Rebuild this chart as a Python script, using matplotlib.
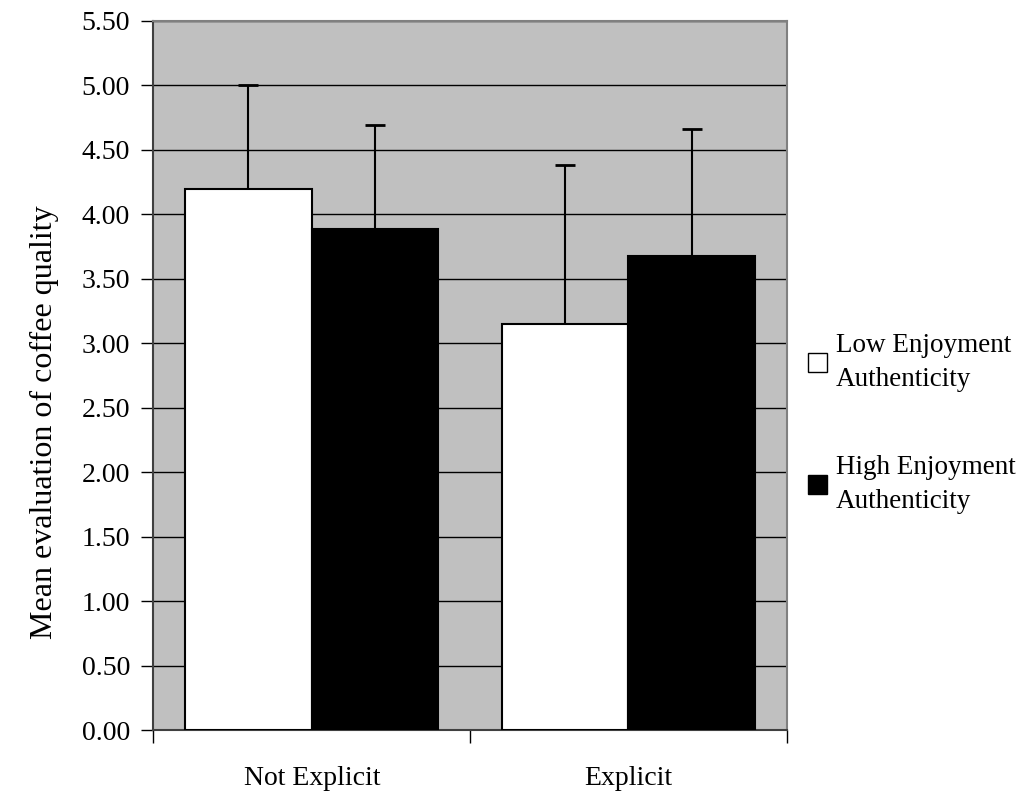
import numpy as np
import matplotlib.pyplot as plt
from matplotlib.patches import Patch

plt.rcParams['font.family'] = ['Liberation Serif', 'DejaVu Serif']

categories = ['Not Explicit', 'Explicit']
low_means = [4.20, 3.15]
high_means = [3.89, 3.68]
low_err = [0.80, 1.23]
high_err = [0.80, 0.98]
series_names = ['Low Enjoyment\nAuthenticity', 'High Enjoyment\nAuthenticity']
yticks = np.arange(0, 5.51, 0.5)

fig = plt.figure(figsize=(10.26, 8), dpi=100)
ax = fig.add_axes([0.1496, 0.0871, 0.617, 0.8867])
ax.set_facecolor('#c0c0c0')

x = np.arange(len(categories))
w = 0.4
ax.bar(x - w/2, low_means, w, color='white', edgecolor='black', linewidth=1.5, zorder=3)
ax.bar(x + w/2, high_means, w, color='black', edgecolor='black', linewidth=1.5, zorder=3)
for pos, means, err in [(x - w/2, low_means, low_err), (x + w/2, high_means, high_err)]:
    eb = ax.errorbar(pos, means, yerr=[np.zeros(len(x)), err], fmt='none',
                     ecolor='black', elinewidth=1.5, capsize=7, capthick=2, zorder=4)
    # hide the lower (zero-length) caps sitting on the bar tops
    eb[1][0].set_visible(False)

ax.set_xlim(-0.5, len(categories) - 0.5)
ax.set_ylim(0, 5.5)
ax.set_yticks(yticks)
ax.set_yticklabels(['%.2f' % v for v in yticks])
ax.yaxis.grid(True, color='black', linewidth=1.0, zorder=1)
ax.set_axisbelow(True)

ax.set_xticks(np.arange(-0.5, len(categories), 1.0))
ax.set_xticklabels([])
ax.set_xticks(x, minor=True)
ax.set_xticklabels(categories, minor=True)
ax.tick_params(axis='x', which='major', direction='out', length=9, width=1)
ax.tick_params(axis='x', which='minor', length=0, pad=26, labelsize=20)
ax.tick_params(axis='y', direction='out', length=9, width=1, pad=8, labelsize=20)

for s in ['top', 'right']:
    ax.spines[s].set_color('#808080')
    ax.spines[s].set_linewidth(1.5)
for s in ['left', 'bottom']:
    ax.spines[s].set_color('#404040')
    ax.spines[s].set_linewidth(1.5)

ax.set_ylabel('Mean evaluation of coffee quality', fontsize=23)
ax.yaxis.set_label_coords(-0.15, 0.435)

handles = [Patch(facecolor='white', edgecolor='black', linewidth=1),
           Patch(facecolor='black', edgecolor='black', linewidth=1)]
leg = fig.legend(handles, series_names, loc='upper left', bbox_to_anchor=(0.788, 0.584),
                 frameon=False, fontsize=19.5, handlelength=0.7, handleheight=0.7,
                 handletextpad=0.3, labelspacing=2.3, borderpad=0, borderaxespad=0)
for t in leg.get_texts():
    t.set_linespacing(1.5)

fig.savefig('out.png', dpi=100)
